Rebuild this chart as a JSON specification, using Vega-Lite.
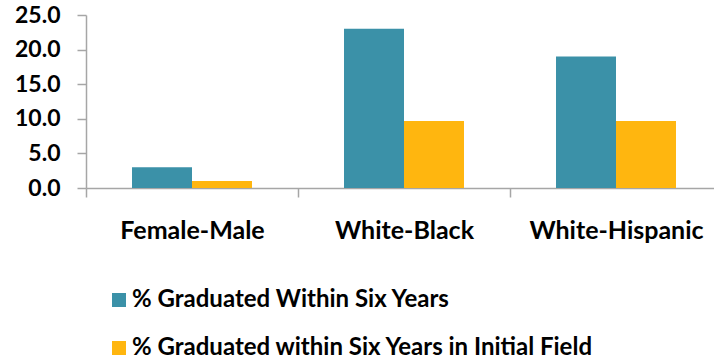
{
  "$schema": "https://vega.github.io/schema/vega-lite/v6.json",
  "autosize": {"type": "none"},
  "padding": {"left": 86, "top": 15, "right": 0, "bottom": 170},
  "width": 628,
  "height": 173,
  "background": "white",
  "data": {
    "values": [
      {"gap": "Female-Male", "measure": "% Graduated Within Six Years", "value": 3.0},
      {"gap": "Female-Male", "measure": "% Graduated within Six Years in Initial Field", "value": 1.0},
      {"gap": "White-Black", "measure": "% Graduated Within Six Years", "value": 23.0},
      {"gap": "White-Black", "measure": "% Graduated within Six Years in Initial Field", "value": 9.7},
      {"gap": "White-Hispanic", "measure": "% Graduated Within Six Years", "value": 19.0},
      {"gap": "White-Hispanic", "measure": "% Graduated within Six Years in Initial Field", "value": 9.7}
    ]
  },
  "config": {
    "view": {"stroke": null},
    "font": "Lato",
    "axis": {"domainColor": "#A6A6A6", "tickColor": "#A6A6A6", "domainWidth": 1.5, "tickWidth": 1.5, "labelColor": "#000000", "labelFontWeight": "bold"}
  },
  "mark": {"type": "bar"},
  "encoding": {
    "x": {
      "field": "gap", "type": "nominal", "sort": null,
      "scale": {"range": [0, 636], "paddingInner": 0, "paddingOuter": 0},
      "axis": {"title": null, "labelAngle": 0, "labelFontSize": 25, "labelPadding": 41, "tickSize": 9, "tickBand": "extent", "labelBaseline": "alphabetic", "labelLimit": 0}
    },
    "xOffset": {
      "field": "measure", "type": "nominal", "sort": null,
      "scale": {"paddingInner": 0, "paddingOuter": 0.767}
    },
    "y": {
      "field": "value", "type": "quantitative",
      "scale": {"domain": [0, 25], "nice": false},
      "axis": {"title": null, "values": [0, 5, 10, 15, 20, 25], "format": ".1f", "grid": false, "labelFontSize": 23, "labelPadding": 17, "tickSize": 9}
    },
    "color": {
      "field": "measure", "type": "nominal", "sort": null,
      "scale": {"range": ["#3B91A8", "#FFB60F"]},
      "legend": {
        "title": null, "orient": "none", "legendX": 21, "legendY": 273,
        "direction": "vertical", "symbolType": "square", "symbolSize": 196,
        "symbolStrokeWidth": 0, "symbolOpacity": 1, "labelFontSize": 24, "labelFontWeight": "bold",
        "labelColor": "#000000", "labelOffset": 1, "rowPadding": 24, "labelLimit": 0
      }
    }
  }
}
